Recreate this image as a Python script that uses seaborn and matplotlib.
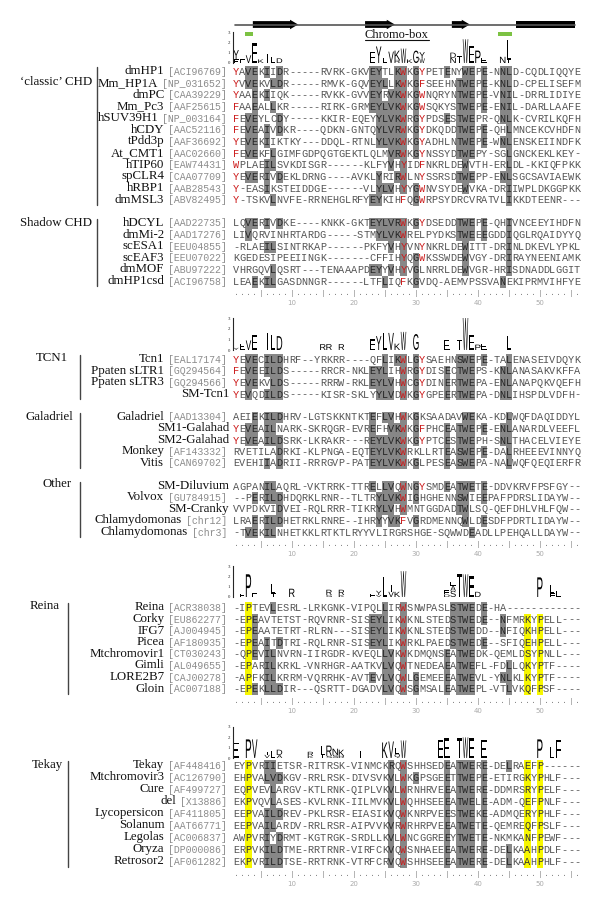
import numpy as np
import pandas as pd
import matplotlib
matplotlib.use("Agg")
import matplotlib.pyplot as plt
import matplotlib.transforms as mtransforms
from matplotlib.colors import ListedColormap
from matplotlib.font_manager import FontProperties
from matplotlib.patches import FancyArrow, PathPatch, Rectangle
from matplotlib.textpath import TextPath
import seaborn as sns

# ---------------- alignment data ----------------
classic_names = ["dmHP1", "Mm_HP1A", "dmPC", "Mm_Pc3", "hSUV39H1", "hCDY", "tPdd3p",
                 "At_CMT1", "hTIP60", "spCLR4", "hRBP1", "dmMSL3"]
classic_acc = ["ACI96769", "NP_031652", "CAA39229", "AAF25615", "NP_003164", "AAC52116",
               "AAF36692", "AAC02660", "EAW74431", "CAA07709", "AAB28543", "ABV82495"]
classic_seqs = [
    "YAVEKIIDR-----RVRK-GKVEYTLKWKGYPETENYWEPE-NNLD-CQDLIQQYE",
    "YVVEKVLDR-----RMVK-GQVEYLLKWKGFSEEHNTWEPE-KNLD-CPELISEFM",
    "YAAEKIIQK-----RVKK-GVVEYRVKWKGWNQRYNTWEPE-VNIL-DRRLIDIYE",
    "FAAEALLKR-----RIRK-GRMEYLVKWKGWSQKYSTWEPE-ENIL-DARLLAAFE",
    "FEVEYLCDY-----KKIR-EQEYYLVKWRGYPDSESTWEPR-QNLK-CVRILKQFH",
    "FEVEAIVDKR----QDKN-GNTQYLVRWKGYDKQDDTWEPE-QHLMNCEKCVHDFN",
    "YEVEKIIKTKY---DDQL-RTNLYLVKWKGYADHLNTWEPE-WNLENSKEIINDFK",
    "FEVEKFLGIMFGDPQGTGEKTLQLMVRWKGYNSSYDTWEPY-SGLGNCKEKLKEY-",
    "WPLAEILSVKDISGR------KLFYVHYIDFNKRLDEWVTH-ERLDL-KKIQFPKK",
    "YEVERIVDEKLDRNG----AVKLYRIRWLNYSSRSDTWEPP-ENLSGCSAVIAEWK",
    "Y-EASIKSTEIDDGE------VLYLVHYYGWNVSYDEWVKA-DRIIWPLDKGGPKK",
    "Y-TSKVLNVFE-RRNEHGLRFYEYKIHFQGWRPSYDRCVRATVLIKKDTEENR---",
]
shadow_names = ["hDCYL", "dmMi-2", "scESA1", "scEAF3", "dmMOF", "dmHP1csd"]
shadow_acc = ["AAD22735", "AAD17276", "EEU04855", "EEU07022", "ABU97222", "ACI96758"]
shadow_seqs = [
    "LQVERIVDKE----KNKK-GKTEYLVRWKGYDSEDDTWEPE-QHIVNCEEYIHDFN",
    "LIVQRVINHRTARDG-----STMYLVKWRELPYDKSTWEEEGDDIQGLRQAIDYYQ",
    "-RLAEILSINTRKAP------PKFYVHYVNYNKRLDEWITT-DRINLDKEVLYPKL",
    "KGEDESIPEEIINGK-------CFFIHYQGWKSSWDEWVGY-DRIRAYNEENIAMK",
    "VHRGQVLQSRT---TENAAAPDEYYVHYVGLNRRLDEWVGR-HRISDNADDLGGIT",
    "LEAEKILGASDNNGR------LTFLIQFKGVDQ-AEMVPSSVANEKIPRMVIHFYE",
]
tcn1_names = ["Tcn1", "Ppaten sLTR1", "Ppaten sLTR3", "SM-Tcn1"]
tcn1_acc = ["EAL17174", "GQ294564", "GQ294566", ""]
tcn1_seqs = [
    "YEVECILDHRF--YRKRR----QFLIKWLGYSAEHNSWEPE-TALENASEIVDQYK",
    "FEVEEILDS-----RRCR-NKLEYLIHWRGYDISECTWEPS-KNLANASAKVKFFA",
    "YEVEKVLDS-----RRRW-RKLEYLVHWCGYDINERTWEPA-ENLANAPQKVQEFH",
    "YEVQDILDS-----KISR-SKLYYLVDWKGYGPEERTWEPA-DNLIHSPDLVDFH-",
]
galadriel_names = ["Galadriel", "SM1-Galahad", "SM2-Galahad", "Monkey", "Vitis"]
galadriel_acc = ["AAD13304", "", "", "AF143332", "CAN69702"]
galadriel_seqs = [
    "AEIEKILDHRV-LGTSKKNTKTEFLVHWKGKSAADAVWEKA-KDLWQFDAQIDDYL",
    "YEVEAILNARK-SKRQGR-EVREFHVKWKGFPHCEATWEPE-ENLANARDLVEEFL",
    "YEVEAILDSRK-LKRAKR---REYLVKWKGYPTCESTWEPH-SNLTHACELVIEYE",
    "RVETILADRKI-KLPNGA-EQTEYLVKWRKLLRTEASWEPE-DALRHEEEVINNYQ",
    "EVEHIIADRII-RRRGVP-PATEYLVKWKGLPESEASWEPA-NALWQFQEQIERFR",
]
other_names = ["SM-Diluvium", "Volvox", "SM-Cranky", "Chlamydomonas", "Chlamydomonas"]
other_acc = ["", "GU784915", "", "chr12", "chr3"]
other_seqs = [
    "AGPANILAQRL-VKTRRK-TTRELLVQWNGYSMDEATWETE-DDVKRVFPSFGY--",
    "--PERILDHDQRKLRNR--TLTRYLVKWIGHGHENNSWIEEPAFPDRSLIDAYW--",
    "VVPDKVIDVEI-RQLRRR-TIKRYLVHWMNTGGDADTWLSQ-QEFDHLVHLFQW--",
    "LRAERILDHETRKLRNRE--IHRYYVKFVGRDMENNQWLDESDFPDRTLIDAYW--",
    "-TVEKILNHETKKLRTKTLRYYVLIRGRSHGE-SQWWDEADLLPEHQALLDAYW--",
]
reina_names = ["Reina", "Corky", "IFG7", "Picea", "Mtchromovir1", "Gimli", "LORE2B7", "Gloin"]
reina_acc = ["ACR38038", "EU862277", "AJ004945", "AF180935", "CT030243", "AL049655",
             "CAJ00278", "AC007188"]
reina_seqs = [
    "-IPTEVLESRL-LRKGNK-VIPQLLIRWSNWPASLSTWEDE-HA------------",
    "-EPEAVTETST-RQVRNR-SISEYLIKWKNLSTEDSTWEDE--NFMRKYPELL---",
    "-EPEAATETRT-RLRN---SISEYLIKWKNLSTEDSTWEDD--NFIQKHPELL---",
    "-EPEAITDTRI-RQLRNR-SISEYLIKWRKLPAEDSTWEDE--SFIQEHPELL---",
    "-QPEVILNVRN-IIRGDR-KVEQLLVKWKDMQNSEATWEDK-QEMLDSYPNLL---",
    "-EPARILKRKL-VNRHGR-AATKVLVQWTNEDEAEATWEFL-FDLLQKYPTF----",
    "-APFKILKRRM-VQRRHK-AVTEVLVQWLGEMEEEATWEVL-YNLKLKYPTF----",
    "-EPEKLLDIR---QSRTT-DGADVLVQWSGMSALEATWEPL-VTLVKQFPSF----",
]
tekay_names = ["Tekay", "Mtchromovir3", "Cure", "del", "Lycopersicon", "Solanum",
               "Legolas", "Oryza", "Retrosor2"]
tekay_acc = ["AF448416", "AC126790", "AF499727", "X13886", "AF411805", "AAT66771",
             "AC006837", "DP000086", "AF061282"]
tekay_seqs = [
    "EYPVRIIETSR-RITRSK-VINMCKRQWSHHSEDEATWERE-DELRAEFP------",
    "EHPVALVDKGV-RRLRSK-DIVSVKVLWKGPSGEETTWEPE-ETIRGKYPHLF---",
    "EQPVEVLARGV-KTLRNK-QIPLVKVLWRNHRVEEATWERE-DDMRSRYPELF---",
    "EKPVQVLASES-KVLRNK-IILMVKVLWQHHSEEEATWELE-ADM-QEFPNLF---",
    "EEPVAILDREV-PKLRSR-EIASIKVQWKNRPVEESTWEKE-ADMQERYPHLF---",
    "EEPVAILARDV-RRLRSR-AIPVVKVRWRHRPVEEATWETE-QEMREQFPSLF---",
    "AWPVRIYDRMT-KGTRGK-SRDLLKVLWNCGGREEYTWETE-NKMKANFPEWF---",
    "ERPVKILDTME-RRTRNR-VIRFCKVQWSNHAEEEATWERE-DELKAAHPDLF---",
    "EKPVRILDTSE-RRTRNK-VTRFCRVQWSHHSEEEATWERE-DELKAAHPHLF---",
]

# shaded (conserved) residues per alignment column
shade_chd = {3: "V", 4: "E", 6: "I", 7: "L", 8: "D", 23: "E", 24: "Y", 25: "L", 26: "V",
             27: "KR", 28: "WY", 30: "G", 35: "E", 37: "T", 38: "W", 39: "E", 41: "E",
             44: "N", 45: "LI"}
shade_tcn = {3: "V", 4: "E", 6: "I", 7: "L", 8: "D", 23: "E", 24: "Y", 25: "L", 26: "V",
             27: "K", 28: "W", 30: "G", 35: "E", 37: "TS", 38: "W", 39: "E", 41: "E",
             44: "N", 45: "L"}
shade_reina = {4: "E", 6: "IL", 7: "IL", 8: "D", 23: "E", 24: "Y", 25: "L", 26: "V",
               28: "W", 30: "G", 35: "E", 36: "S", 37: "T", 38: "W", 39: "E", 41: "E",
               44: "N", 45: "L"}
shade_tekay = {6: "IL", 7: "ILV", 8: "D", 26: "VR", 28: "W", 30: "G", 35: "E", 37: "T",
               38: "W", 39: "E", 41: "E", 45: "L"}
yellow_cols_chromo = [3, 48, 50]
red_cols_chd = [1, 28, 31]
red_cols_chromo = [28]

# sequence logos: (column, letter, height in bits), stacked bottom to top
logo_chd = [(1, "F", 0.35), (1, "Y", 0.9), (2, "E", 0.35), (3, "V", 0.75), (4, "E", 1.9),
            (5, "K", 0.35), (6, "I", 0.9), (7, "L", 0.55), (8, "D", 0.45),
            (23, "E", 1.1), (24, "Y", 1.6), (25, "L", 0.5), (26, "V", 1.1),
            (27, "R", 0.3), (27, "K", 0.9), (28, "W", 1.4), (29, "K", 0.35), (30, "G", 1.2),
            (31, "W", 0.45), (31, "Y", 0.6), (36, "N", 0.5), (36, "D", 0.5), (37, "T", 0.7),
            (38, "W", 2.3), (39, "E", 1.6), (40, "P", 1.2), (41, "E", 0.5),
            (44, "N", 0.6), (45, "I", 0.3), (45, "L", 1.9)]
logo_tcn = [(1, "Y", 0.2), (2, "E", 0.6), (3, "V", 0.9), (4, "E", 1.4), (6, "I", 1.6),
            (7, "L", 1.4), (8, "D", 1.3), (15, "R", 0.55), (16, "R", 0.55), (18, "R", 0.55),
            (23, "E", 1.0), (24, "Y", 1.3), (25, "L", 1.6), (26, "V", 1.6), (27, "K", 0.6),
            (28, "W", 1.7), (30, "G", 1.5), (35, "E", 0.9), (37, "T", 0.9), (38, "W", 3.0),
            (39, "E", 1.4), (40, "P", 0.5), (41, "E", 0.6), (45, "L", 1.3)]
logo_reina = [(2, "E", 0.3), (3, "P", 2.2), (4, "E", 0.35), (7, "T", 0.35), (7, "L", 0.9),
              (10, "R", 0.8), (16, "G", 0.2), (16, "R", 0.5), (18, "K", 0.2), (18, "R", 0.5),
              (23, "E", 0.3), (24, "V", 0.2), (24, "Y", 0.4), (25, "L", 1.9),
              (26, "V", 0.5), (26, "I", 0.7), (27, "K", 0.5), (28, "W", 2.5),
              (35, "D", 0.25), (35, "E", 0.4), (36, "S", 0.6), (36, "A", 0.5), (36, "E", 0.35),
              (37, "T", 2.2), (38, "W", 2.2), (39, "E", 2.0), (40, "D", 0.5),
              (50, "P", 1.9), (52, "F", 0.35), (52, "L", 0.8), (53, "L", 0.55)]
logo_tekay = [(1, "E", 1.5), (3, "P", 1.8), (4, "V", 1.8), (6, "V", 0.3), (6, "I", 0.3),
              (7, "L", 0.7), (8, "A", 0.3), (8, "D", 0.5), (13, "K", 0.2), (13, "R", 0.4),
              (15, "T", 0.3), (15, "L", 0.9), (16, "S", 0.2), (16, "R", 1.0), (17, "S", 0.3),
              (17, "N", 0.6), (18, "R", 0.2), (18, "K", 0.6), (21, "I", 0.7),
              (25, "K", 1.5), (26, "V", 1.6), (27, "Q", 0.4), (27, "L", 0.6), (28, "W", 1.7),
              (34, "E", 1.7), (35, "E", 1.9), (37, "T", 1.9), (38, "W", 2.0), (39, "E", 1.9),
              (41, "E", 1.7), (50, "P", 1.8), (52, "L", 1.1), (53, "F", 1.7)]

# secondary structure above the chromodomain (in alignment column units)
strand_spans = [(3.2, 10.5), (21.3, 26.1), (35.3, 38.2)]
helix_span = (45.6, 55.2)
green_marks = [(1.9, 3.2), (42.7, 45.0)]

NCOL = 56
FW, FH = 600, 911
X_LEFT, COL_W = 233.0, 6.2

blocks = [
    dict(groups=[("\u2018classic\u2019 CHD", classic_names, classic_acc, classic_seqs),
                 ("Shadow CHD", shadow_names, shadow_acc, shadow_seqs)],
         shade=shade_chd, red=red_cols_chd, yellow=[], logo=logo_chd,
         first_y=72, row_h=11.65, logo_px=(32, 63), bracket_x=97,
         label_x=[56, 56], label_off=[1.4, 0.5]),
    dict(groups=[("TCN1", tcn1_names, tcn1_acc, tcn1_seqs),
                 ("Galadriel", galadriel_names, galadriel_acc, galadriel_seqs),
                 ("Other", other_names, other_acc, other_seqs)],
         shade=shade_tcn, red=red_cols_chd, yellow=[], logo=logo_tcn,
         first_y=360, row_h=11.5, logo_px=(318, 350), bracket_x=80,
         label_x=[52, 49, 57], label_off=[0.3, 0.45, 0.3]),
    dict(groups=[("Reina", reina_names, reina_acc, reina_seqs)],
         shade=shade_reina, red=red_cols_chromo, yellow=yellow_cols_chromo, logo=logo_reina,
         first_y=608, row_h=11.6, logo_px=(566, 597), bracket_x=68,
         label_x=[45], label_off=[0.3]),
    dict(groups=[("Tekay", tekay_names, tekay_acc, tekay_seqs)],
         shade=shade_tekay, red=red_cols_chromo, yellow=yellow_cols_chromo, logo=logo_tekay,
         first_y=766, row_h=12.0, logo_px=(727, 758), bracket_x=68,
         label_x=[47], label_off=[0.45]),
]

# ---------------- styling ----------------
sns.set_style("white")
plt.rcParams["font.family"] = ["Liberation Serif", "DejaVu Serif"]
MONO = "Liberation Mono"
SERIF = "Liberation Serif"
C_GRAY, C_YEL = "#878787", "#f7f700"
C_RED = "#cc1a1a"
cmap = ListedColormap(["white", C_GRAY, C_YEL])
logo_font = FontProperties(family="Liberation Sans")

fig = plt.figure(figsize=(FW / 100, FH / 100), dpi=100)


def fx(px):
    return px / FW


def draw_letter(ax, ch, col, y0, h):
    tp = TextPath((0, 0), ch, size=1, prop=logo_font)
    bb = tp.get_extents()
    w = 0.88
    sx = w / max(bb.width, 0.55)
    sy = h / bb.height
    x0 = col - 1 + (1 - bb.width * sx) / 2
    t = mtransforms.Affine2D().translate(-bb.x0, -bb.y0).scale(sx, sy).translate(x0, y0)
    ax.add_patch(PathPatch(t.transform_path(tp), facecolor="black", lw=0))


for blk in blocks:
    rows, group_rows = [], []
    for gi, (gname, names, accs, seqs) in enumerate(blk["groups"]):
        if gi > 0:
            rows.append(None)
        start = len(rows)
        for n, a, s in zip(names, accs, seqs):
            assert len(s) == NCOL, (n, len(s))
            rows.append((n, a, s))
        group_rows.append((gname, start, len(rows) - 1))
    nrow = len(rows)

    codes = np.full((nrow, NCOL), np.nan)
    letters = np.full((nrow, NCOL), "", dtype=object)
    for r, row in enumerate(rows):
        if row is None:
            continue
        for c, ch in enumerate(row[2], start=1):
            if c in blk["yellow"] and ch != "-":
                code = 2
            elif ch in blk["shade"].get(c, ""):
                code = 1
            else:
                code = 0
            codes[r, c - 1] = code
            letters[r, c - 1] = ch

    rh = blk["row_h"]
    top = blk["first_y"] - rh / 2
    height = nrow * rh
    ax = fig.add_axes([fx(X_LEFT), 1 - (top + height) / FH, fx(NCOL * COL_W), height / FH])
    sns.heatmap(pd.DataFrame(codes), ax=ax, cmap=cmap, vmin=0, vmax=2, cbar=False,
                annot=letters, fmt="", xticklabels=False, yticklabels=False,
                annot_kws=dict(family=MONO, fontsize=7.4))
    for t in ax.texts:
        x, y = t.get_position()
        r, c = int(y), int(x)
        ch = t.get_text()
        if (c + 1) in blk["red"] and ch in "FWY":
            t.set_color(C_RED)
        elif codes[r, c] == 1:
            t.set_color("#262626")
        elif codes[r, c] == 2:
            t.set_color("#333333")
        else:
            t.set_color("#555555")

    # ruler under the block
    for c in range(1, NCOL + 1):
        ax.text(c - 0.5, nrow + 0.55, "|" if c % 5 == 0 else ".", ha="center", va="center",
                family=MONO, fontsize=6, color="#8a8a8a", clip_on=False)
        if c % 10 == 0:
            ax.text(c - 0.5, nrow + 1.35, str(c), ha="center", va="center",
                    family="DejaVu Sans", fontsize=5, color="#aaaaaa", clip_on=False)

    # names, accessions, group brackets
    trans = mtransforms.blended_transform_factory(fig.transFigure, ax.transData)
    for r, row in enumerate(rows):
        if row is None:
            continue
        name, acc, _ = row
        if acc:
            label = "[" + acc + "]"
            ax.text(fx(227), r + 0.5, label, transform=trans, ha="right", va="center",
                    family=MONO, fontsize=7.1, color="#8c8c8c", clip_on=False)
            name_right = 227 - len(label) * 5.92 - 3.5
        else:
            name_right = 229
        ax.text(fx(name_right), r + 0.45, name, transform=trans, ha="right", va="center",
                family=SERIF, fontsize=9.3, color="#111111", clip_on=False)
    for (gname, r0, r1), lx, lo in zip(group_rows, blk["label_x"], blk["label_off"]):
        ax.plot([fx(blk["bracket_x"])] * 2, [r0 + 0.1, r1 + 0.9], transform=trans,
                color="#444444", lw=1.0, clip_on=False)
        ax.text(fx(lx), r0 + lo, gname, transform=trans, ha="center", va="center",
                family=SERIF, fontsize=9.3, color="#111111", clip_on=False)

    # sequence logo
    y3, y0 = blk["logo_px"]
    lax = fig.add_axes([fx(X_LEFT), 1 - y0 / FH, fx(NCOL * COL_W), (y0 - y3) / FH])
    lax.set_xlim(0, NCOL)
    lax.set_ylim(0, 3)
    stack = {}
    for col, ch, h in blk["logo"]:
        base = stack.get(col, 0.0)
        draw_letter(lax, ch, col, base, h)
        stack[col] = base + h
    for side in ["top", "right", "bottom"]:
        lax.spines[side].set_visible(False)
    lax.spines["left"].set_linewidth(0.8)
    lax.set_xticks([])
    lax.set_yticks([0, 1, 2, 3])
    lax.tick_params(axis="y", labelsize=3.5, length=1.5, width=0.5, pad=0.5)
    lax.patch.set_alpha(0)

# secondary structure diagram
sax = fig.add_axes([fx(X_LEFT), 1 - 45 / FH, fx(NCOL * COL_W), 30 / FH])
sax.set_xlim(0, NCOL)
sax.set_ylim(30, 0)
sax.axis("off")
sax.plot([0.3, 55.2], [9.8, 9.8], color="#555555", lw=1.2)
for s, e in strand_spans:
    sax.add_patch(FancyArrow(s, 9.5, e - s, 0, width=6.8, head_width=9.5, head_length=1.3,
                             length_includes_head=True, color="black", lw=0))
sax.add_patch(Rectangle((helix_span[0], 5.8), helix_span[1] - helix_span[0], 7.6,
                        color="black", lw=0))
for s, e in green_marks:
    sax.add_patch(Rectangle((s, 17.3), e - s, 4.2, color="#7cc243", lw=0))
cb = sax.text(26.4, 20.0, "Chromo-box", ha="center", va="center", family=SERIF,
              fontsize=9, color="#111111")
fig.canvas.draw()
bb = cb.get_window_extent().transformed(sax.transData.inverted())
sax.plot([bb.x0, bb.x1], [24.6, 24.6], color="#111111", lw=0.8)

fig.savefig("out.png", dpi=100)
